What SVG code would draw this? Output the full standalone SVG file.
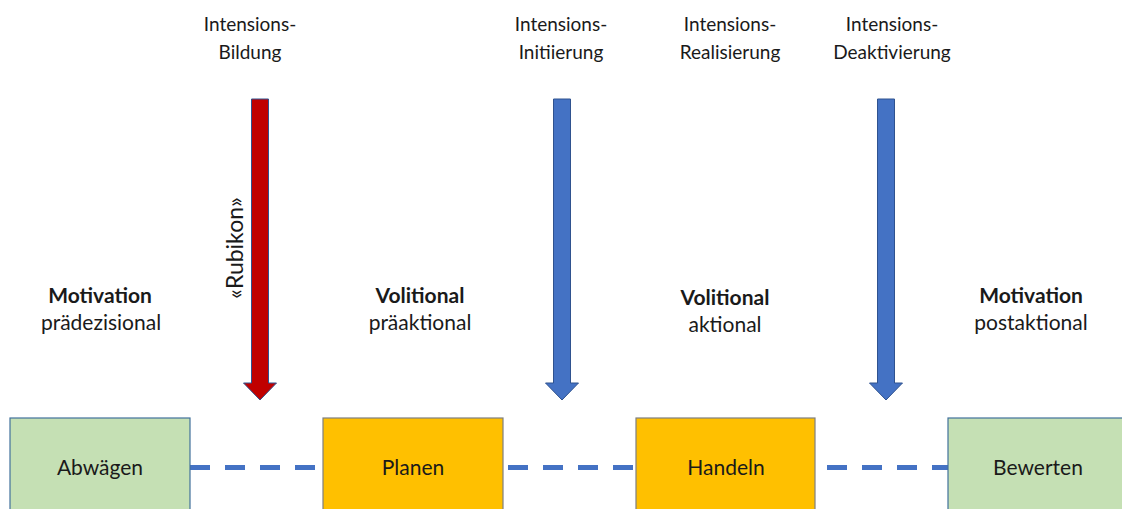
<svg xmlns="http://www.w3.org/2000/svg" width="1122" height="509" viewBox="0 0 1122 509">
  <style>
    text { font-family: "Lato", "Open Sans", "Liberation Sans", sans-serif; fill: #1a1a1a; text-anchor: middle; }
    .lbl { font-size: 19px; }
    .phase { font-size: 21px; }
    .box-lbl { font-size: 21px; }
    .rot { font-size: 23px; }
    .bold { font-weight: bold; }
    .green { fill: #C5E0B4; stroke: #41719C; stroke-width: 1.2; }
    .gold { fill: #FFC000; stroke: #7F7F7F; stroke-width: 1.2; }
    .link { stroke: #4472C4; stroke-width: 5; stroke-dasharray: 20 15; fill: none; }
    .down-red { fill: #C00000; stroke: #2F528F; stroke-width: 1; }
    .down-blue { fill: #4472C4; stroke: #2F528F; stroke-width: 1; }
  </style>
  <defs>
    <!-- block arrow pointing down, origin at top centre of shaft -->
    <path id="arrow-down" d="M -8.5 0 H 8.5 V 284 H 16.5 L 0 301 L -16.5 284 H -8.5 Z"/>
  </defs>

  <rect width="1122" height="509" fill="#ffffff"/>

  <!-- dashed links between the stages -->
  <g id="connectors">
    <line class="link" x1="190" y1="467.5" x2="323" y2="467.5"/>
    <line class="link" x1="508" y1="467.5" x2="636" y2="467.5"/>
    <line class="link" x1="827" y1="467.5" x2="948" y2="467.5"/>
  </g>

  <!-- transition arrows -->
  <g id="arrow-bildung">
    <use href="#arrow-down" class="down-red" x="260" y="99"/>
    <text class="lbl" x="250" y="31">Intensions-</text>
    <text class="lbl" x="250" y="59">Bildung</text>
    <text class="rot" transform="translate(243 248) rotate(-90)">«Rubikon»</text>
  </g>
  <g id="arrow-initiierung">
    <use href="#arrow-down" class="down-blue" x="562" y="99"/>
    <text class="lbl" x="561" y="31">Intensions-</text>
    <text class="lbl" x="561" y="59">Initiierung</text>
  </g>
  <g id="label-realisierung">
    <text class="lbl" x="730" y="31">Intensions-</text>
    <text class="lbl" x="730" y="59">Realisierung</text>
  </g>
  <g id="arrow-deaktivierung">
    <use href="#arrow-down" class="down-blue" x="886" y="99"/>
    <text class="lbl" x="892" y="31">Intensions-</text>
    <text class="lbl" x="892" y="59">Deaktivierung</text>
  </g>

  <!-- phase captions -->
  <g id="phase-praedezisional">
    <text class="phase bold" x="100" y="303">Motivation</text>
    <text class="phase" x="101" y="330">prädezisional</text>
  </g>
  <g id="phase-praeaktional">
    <text class="phase bold" x="420" y="303">Volitional</text>
    <text class="phase" x="420" y="330">präaktional</text>
  </g>
  <g id="phase-aktional">
    <text class="phase bold" x="725" y="305">Volitional</text>
    <text class="phase" x="725" y="332">aktional</text>
  </g>
  <g id="phase-postaktional">
    <text class="phase bold" x="1031" y="303">Motivation</text>
    <text class="phase" x="1031" y="330">postaktional</text>
  </g>

  <!-- stage boxes -->
  <g id="node-abwaegen">
    <rect class="green" x="10" y="418" width="180" height="100"/>
    <text class="box-lbl" x="100" y="475">Abwägen</text>
  </g>
  <g id="node-planen">
    <rect class="gold" x="323" y="418" width="180" height="100"/>
    <text class="box-lbl" x="413" y="475">Planen</text>
  </g>
  <g id="node-handeln">
    <rect class="gold" x="636" y="418" width="179" height="100"/>
    <text class="box-lbl" x="726" y="475">Handeln</text>
  </g>
  <g id="node-bewerten">
    <rect class="green" x="948" y="418" width="180" height="100"/>
    <text class="box-lbl" x="1038" y="475">Bewerten</text>
  </g>
</svg>
